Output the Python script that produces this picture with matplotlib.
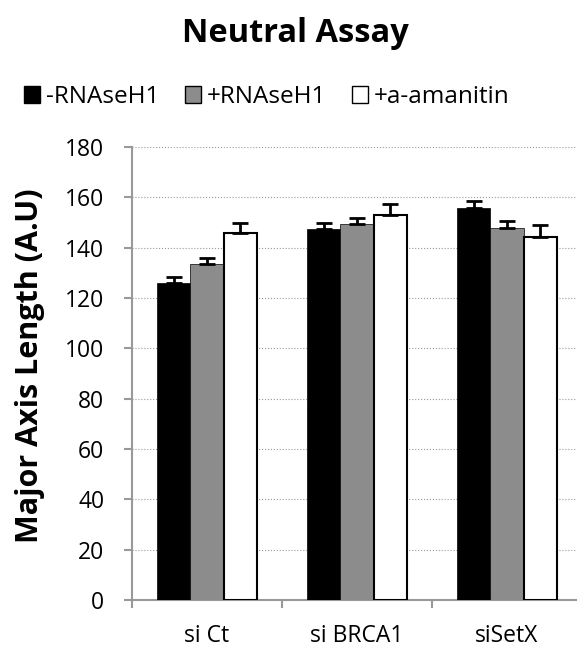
import matplotlib.pyplot as plt
import numpy as np
from matplotlib.patches import Patch

plt.rcParams['font.family'] = ['Open Sans', 'DejaVu Sans']

# data
categories = ['si Ct', 'si BRCA1', 'siSetX']
series = ['-RNAseH1', '+RNAseH1', '+a-amanitin']
values = {
    '-RNAseH1': [126, 147.3, 155.9],
    '+RNAseH1': [133.4, 149.5, 147.9],
    '+a-amanitin': [145.7, 152.8, 144.3],
}
errors = {
    '-RNAseH1': [2.5, 2.4, 2.5],
    '+RNAseH1': [2.6, 2.4, 2.5],
    '+a-amanitin': [4.0, 4.5, 4.8],
}
colors = ['#000000', '#8c8c8c', '#ffffff']

fig = plt.figure(figsize=(5.77, 6.51), dpi=100)
ax = fig.add_axes([132 / 577, 1 - 600 / 651, 1 - 132 / 577, 453 / 651])

x = np.arange(len(categories))
width = 0.222
for i, (name, col) in enumerate(zip(series, colors)):
    vals = values[name]
    err = errors[name]
    ax.bar(x + (i - 1) * width, vals, width, color=col, edgecolor='black',
           linewidth=1.5 if col == '#ffffff' else 0.5, label=name, zorder=3,
           yerr=[np.zeros(len(err)), err],
           error_kw=dict(ecolor='black', elinewidth=2, capsize=6, capthick=2, zorder=4))

ax.set_ylim(0, 180)
ax.set_yticks(range(0, 181, 20))
ax.set_xlim(-0.5, 2.5 - 5 / 150)
ax.set_xticks([-0.5, 0.5, 1.5], minor=False, labels=['', '', ''])
ax.set_xticks(x, minor=True, labels=categories)
ax.tick_params(axis='x', which='minor', length=0, pad=17, labelsize=16.5)
ax.tick_params(axis='x', which='major', length=6, width=1.5, color='#999999', direction='out')
ax.tick_params(axis='y', length=6, width=1.5, color='#999999', labelsize=16.5, pad=14)
ax.yaxis.grid(True, linestyle=':', color='#999999', linewidth=0.8, zorder=0)
ax.set_axisbelow(True)
for s in ['top', 'right']:
    ax.spines[s].set_visible(False)
for s in ['left', 'bottom']:
    ax.spines[s].set_color('#999999')
    ax.spines[s].set_linewidth(1.5)

ax.set_ylabel('Major Axis Length (A.U)', fontsize=22, fontweight='bold')
ax.yaxis.set_label_coords(-0.195, 0.517)

fig.text(295 / 577, 1 - 33 / 651, 'Neutral Assay', fontsize=23.5, fontweight='bold',
         ha='center', va='center')

handles = [Patch(facecolor=c, edgecolor='black', linewidth=1) for c in colors]
fig.legend(handles, series, loc='center', bbox_to_anchor=(267 / 577, 1 - 97 / 651),
           ncol=3, frameon=False, fontsize=17.5, handlelength=0.65, handleheight=0.65,
           handletextpad=0.25, columnspacing=1.05, borderpad=0, borderaxespad=0)

plt.savefig('out.png', dpi=100)
plt.close()
